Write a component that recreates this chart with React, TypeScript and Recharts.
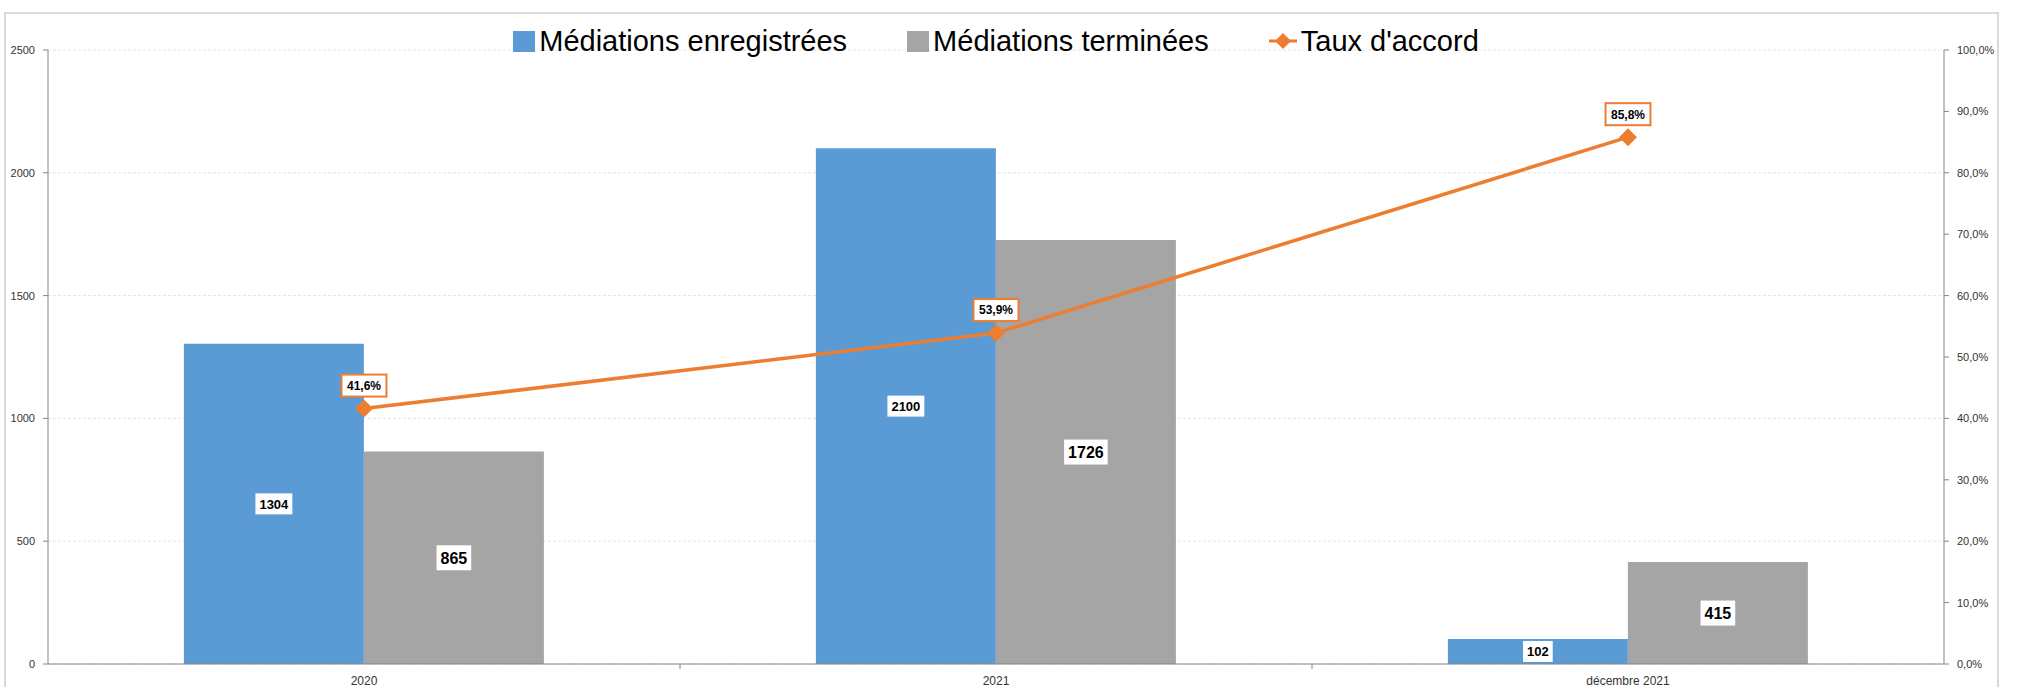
import React from 'react';
import {
  ComposedChart,
  Bar,
  Line,
  XAxis,
  YAxis,
  CartesianGrid,
  LabelList,
} from 'recharts';

// --- Données ---
const categories = ['2020', '2021', 'décembre 2021'];
const enregistrees = [1304, 2100, 102];
const terminees = [865, 1726, 415];
const tauxAccord = [41.6, 53.9, 85.8];
const leftTicks = [0, 500, 1000, 1500, 2000, 2500];
const rightTicks = [0, 10, 20, 30, 40, 50, 60, 70, 80, 90, 100];
const seriesNames = ['Médiations enregistrées', 'Médiations terminées', "Taux d'accord"];

const data = categories.map((name, i) => ({
  name,
  enr: enregistrees[i],
  term: terminees[i],
  taux: tauxAccord[i],
}));

const BLUE = '#5B9BD5';
const GRAY = '#A5A5A5';
const ORANGE = '#ED7D31';
const AXIS = '#868686';
const TEXT = '#333333';
const FONT = '"Liberation Sans", Arial, sans-serif';

const W = 2019;
const H = 687;
const PLOT_LEFT = 48;
const PLOT_RIGHT = 1944;
const BAND = (PLOT_RIGHT - PLOT_LEFT) / categories.length;

const fmtPct = (v: number) => v.toFixed(1).replace('.', ',') + '%';

// étiquette blanche centrée dans la barre
const barLabel = (fontSize: number, boxH: number) => (props: any) => {
  const { x, y, width, height, value } = props;
  const cx = x + width / 2;
  const cy = y + height / 2;
  const w = String(value).length * fontSize * 0.556 + 8;
  return (
    <g>
      <rect x={cx - w / 2} y={cy - boxH / 2} width={w} height={boxH} fill="#fff" />
      <text
        x={cx}
        y={cy}
        dy="0.36em"
        textAnchor="middle"
        fontSize={fontSize}
        fontWeight="bold"
        fontFamily={FONT}
        fill="#000"
      >
        {value}
      </text>
    </g>
  );
};

const lineLabel = (props: any) => {
  const { x, y, value } = props;
  const w = 45;
  const h = 22;
  const cy = y - 23;
  return (
    <g>
      <rect
        x={x - w / 2}
        y={cy - h / 2}
        width={w}
        height={h}
        fill="#fff"
        stroke={ORANGE}
        strokeWidth={2}
      />
      <text
        x={x}
        y={cy}
        dy="0.36em"
        textAnchor="middle"
        fontSize={12}
        fontWeight="bold"
        fontFamily={FONT}
        fill="#000"
      >
        {fmtPct(value)}
      </text>
    </g>
  );
};

const Diamond = (props: any) => {
  const { cx, cy, index } = props;
  const r = 9;
  return (
    <path
      key={`d-${index}`}
      d={`M${cx},${cy - r}L${cx + r},${cy}L${cx},${cy + r}L${cx - r},${cy}Z`}
      fill={ORANGE}
    />
  );
};

const XTick = (props: any) => {
  const { x, y, payload, index } = props;
  return (
    <g>
      <text x={x} y={y + 21} textAnchor="middle" fontSize={12} fontFamily={FONT} fill={TEXT}>
        {payload.value}
      </text>
      {index < categories.length - 1 && (
        <line x1={x + BAND / 2} x2={x + BAND / 2} y1={y} y2={y + 5} stroke={AXIS} />
      )}
    </g>
  );
};

const LegendBox = () => {
  const colors = [BLUE, GRAY];
  return (
    <div
      style={{
        position: 'absolute',
        top: 26,
        left: PLOT_LEFT,
        width: PLOT_RIGHT - PLOT_LEFT,
        display: 'flex',
        justifyContent: 'center',
        alignItems: 'center',
        fontFamily: FONT,
        fontSize: 29,
        lineHeight: '30px',
        color: '#000',
        gap: 60,
      }}
    >
      {seriesNames.map((name, i) => (
        <div key={name} style={{ display: 'flex', alignItems: 'center', gap: 4 }}>
          {i < 2 ? (
            <span style={{ display: 'inline-block', width: 22, height: 21, background: colors[i] }} />
          ) : (
            <svg width={28} height={22}>
              <line x1={0} x2={28} y1={11} y2={11} stroke={ORANGE} strokeWidth={3} />
              <path d="M14,3L22,11L14,19L6,11Z" fill={ORANGE} />
            </svg>
          )}
          <span>{name}</span>
        </div>
      ))}
    </div>
  );
};

export default function App() {
  return (
    <div style={{ position: 'absolute', left: 0, top: 0, width: W, height: H, background: '#fff', overflow: 'hidden' }}>
      <div
        style={{
          position: 'absolute',
          left: 4,
          top: 12,
          width: 1991,
          height: 700,
          border: '2px solid #d9d9d9',
        }}
      />
      <ComposedChart
        width={W}
        height={H}
        data={data}
        margin={{ top: 50, right: 0, left: 0, bottom: 0 }}
        barCategoryGap="21.5%"
        barGap={0}
        style={{ position: 'absolute', left: 0, top: 0 }}
      >
        <CartesianGrid
          yAxisId="left"
          vertical={false}
          stroke="#e4e4e4"
          strokeDasharray="3 2"
        />
        <XAxis
          dataKey="name"
          height={23}
          stroke={AXIS}
          tickLine={false}
          tickSize={0}
          tickMargin={0}
          tick={<XTick />}
          interval={0}
        />
        <YAxis
          yAxisId="left"
          width={48}
          domain={[0, 2500]}
          ticks={leftTicks}
          stroke={AXIS}
          tickSize={5}
          tickMargin={8}
          tick={{ fontSize: 11, fill: TEXT, fontFamily: FONT }}
        />
        <YAxis
          yAxisId="right"
          orientation="right"
          width={75}
          domain={[0, 100]}
          ticks={rightTicks}
          stroke={AXIS}
          tickSize={5}
          tickMargin={8}
          tickFormatter={fmtPct}
          tick={{ fontSize: 11, fill: TEXT, fontFamily: FONT, textAnchor: 'start' }}
        />
        <Bar yAxisId="left" dataKey="enr" fill={BLUE} isAnimationActive={false}>
          <LabelList dataKey="enr" content={barLabel(13, 21)} />
        </Bar>
        <Bar yAxisId="left" dataKey="term" fill={GRAY} isAnimationActive={false}>
          <LabelList dataKey="term" content={barLabel(16, 25)} />
        </Bar>
        <Line
          yAxisId="right"
          dataKey="taux"
          stroke={ORANGE}
          strokeWidth={3.5}
          dot={Diamond}
          activeDot={false}
          isAnimationActive={false}
        >
          <LabelList dataKey="taux" content={lineLabel} />
        </Line>
      </ComposedChart>
      <LegendBox />
    </div>
  );
}
